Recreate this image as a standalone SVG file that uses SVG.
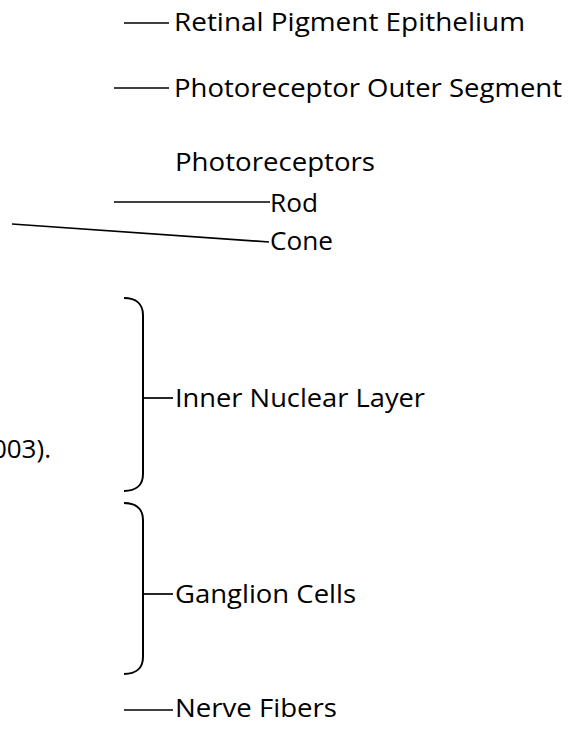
<svg xmlns="http://www.w3.org/2000/svg" width="587" height="730" viewBox="0 0 587 730">
<style>
text{font-family:"Open Sans","Noto Sans","Liberation Sans",sans-serif;font-size:26px;fill:#000}
.ln{stroke:#000;stroke-width:1.7;fill:none}
.br{stroke:#000;stroke-width:2;fill:none}
</style>
<rect width="587" height="730" fill="#fff"/>
<g id="connectors">
<line class="ln" x1="124" y1="23" x2="169" y2="23"/>
<line class="ln" x1="114" y1="88" x2="169" y2="88"/>
<line class="ln" x1="114" y1="202" x2="270" y2="202"/>
<line class="ln" x1="12" y1="224" x2="269" y2="242"/>
<line class="ln" x1="143" y1="398" x2="173" y2="398"/>
<line class="ln" x1="143" y1="594" x2="173" y2="594"/>
<line class="ln" x1="124" y1="710" x2="173" y2="710"/>
</g>
<g id="bracket-inner"><path class="br" d="M124,298 C136,298 143,304 143,315 V474 C143,485 136,491 124,491"/></g>
<g id="bracket-ganglion"><path class="br" d="M124,503 C136,503 143,509 143,520 V657 C143,668 136,674 124,674"/></g>
<g id="rpe"><text x="174" y="31" textLength="351" lengthAdjust="spacingAndGlyphs">Retinal Pigment Epithelium</text></g>
<g id="pos"><text x="174" y="97" textLength="388" lengthAdjust="spacingAndGlyphs">Photoreceptor Outer Segment</text></g>
<g id="photoreceptors"><text x="175" y="171" textLength="200" lengthAdjust="spacingAndGlyphs">Photoreceptors</text></g>
<g id="rod"><text x="270" y="212" textLength="48" lengthAdjust="spacingAndGlyphs">Rod</text></g>
<g id="cone"><text x="270" y="250" textLength="63" lengthAdjust="spacingAndGlyphs">Cone</text></g>
<g id="inl"><text x="175" y="407" textLength="250" lengthAdjust="spacingAndGlyphs">Inner Nuclear Layer</text></g>
<g id="citation"><text x="51" y="458" text-anchor="end">003).</text></g>
<g id="ganglion"><text x="175" y="603" textLength="181" lengthAdjust="spacingAndGlyphs">Ganglion Cells</text></g>
<g id="nerve"><text x="175" y="717" textLength="162" lengthAdjust="spacingAndGlyphs">Nerve Fibers</text></g>
</svg>
